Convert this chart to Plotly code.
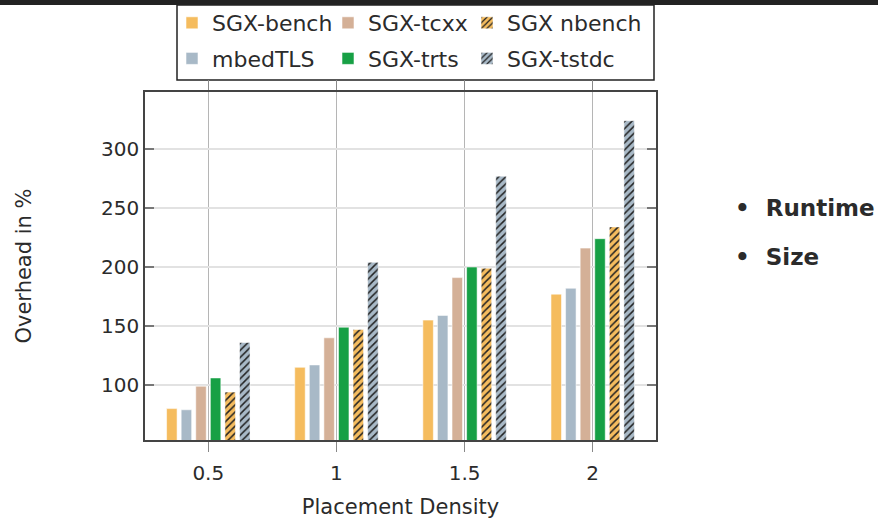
import plotly.graph_objects as go

# ---- data ----
densities = [0.5, 1, 1.5, 2]
x_tick_labels = ["0.5", "1", "1.5", "2"]
y_tick_vals = [100, 150, 200, 250, 300]

sgx_bench = [80, 115, 155, 177]
mbedtls = [79, 117, 159, 182]
sgx_tcxx = [99, 140, 191, 216]
sgx_trts = [106, 149, 200, 224]
sgx_nbench = [94, 147, 199, 234]
sgx_tstdc = [136, 204, 277, 324]

series_names = ["SGX-bench", "mbedTLS", "SGX-tcxx", "SGX-trts", "SGX nbench", "SGX-tstdc"]
series_values = [sgx_bench, mbedtls, sgx_tcxx, sgx_trts, sgx_nbench, sgx_tstdc]
series_colors = ["#F5BC5E", "#A8B9C7", "#D4B097", "#17A045", "#F5BC5E", "#A8B9C7"]
series_hatched = [False, False, False, False, True, True]
series_legend = ["legend", "legend", "legend2", "legend2", "legend3", "legend3"]

FONT = "DejaVu Sans"
TXT = "#2b2b2b"

fig = go.Figure()
for name, vals, col, hatch, lg in zip(series_names, series_values, series_colors,
                                      series_hatched, series_legend):
    marker = dict(color=col, line=dict(color="rgba(255,255,255,0.55)", width=1))
    if hatch:
        marker["pattern"] = dict(shape="/", fgcolor="#222222", bgcolor=col,
                                 size=5, solidity=0.3, fillmode="replace")
    fig.add_trace(go.Bar(x=densities, y=vals, name=name, marker=marker,
                         legend=lg, legendgroup=name))

W, H = 878, 519
ml, mr, mt, mb = 145, 222, 92, 79
pw = W - ml - mr
ph = H - mt - mb


def px_x(x):
    return (x - ml) / pw


def px_y(y):
    return (H - mb - y) / ph


def legend_at(xpix):
    return dict(
        orientation="v", x=px_x(xpix), xanchor="left",
        y=px_y(2), yanchor="top",
        bgcolor="rgba(0,0,0,0)", borderwidth=0,
        font=dict(family=FONT, size=22, color=TXT),
        itemwidth=30, traceorder="grouped", tracegroupgap=4,
    )


fig.update_layout(
    width=W, height=H,
    margin=dict(l=ml, r=mr, t=mt, b=mb, pad=0, autoexpand=False),
    paper_bgcolor="white", plot_bgcolor="white",
    barmode="group", bargap=0.317, bargroupgap=0.28,
    font=dict(family=FONT, color=TXT, size=20),
    legend=legend_at(172),
    legend2=legend_at(328),
    legend3=legend_at(467),
    xaxis=dict(
        range=[0.253, 2.247], tickmode="array", tickvals=densities,
        ticktext=x_tick_labels, ticks="outside", ticklen=10, tickcolor="#888888",
        showgrid=True, gridcolor="#b5b5b5", gridwidth=1,
        showline=True, linecolor="#444444", linewidth=1.5, mirror="ticks",
        zeroline=False, ticklabelstandoff=4,
        tickfont=dict(family=FONT, size=20, color=TXT),
        title=dict(text="Placement Density", font=dict(family=FONT, size=21, color=TXT),
                   standoff=18),
    ),
    yaxis=dict(
        range=[53.4, 348.3], tickmode="array", tickvals=y_tick_vals,
        ticks="inside", ticklen=9, tickcolor="#777777", tickwidth=1.5,
        showgrid=True, gridcolor="#e2e2e2", gridwidth=2,
        showline=True, linecolor="#444444", linewidth=1.5, mirror="ticks",
        zeroline=False,
        tickfont=dict(family=FONT, size=20, color=TXT),
        title=dict(text="Overhead in %", font=dict(family=FONT, size=21, color=TXT),
                   standoff=64),
    ),
    shapes=[
        dict(type="rect", xref="paper", yref="paper",
             x0=px_x(0), x1=px_x(W), y0=px_y(5), y1=px_y(-2),
             fillcolor="#222222", line=dict(width=0), layer="above"),
        dict(type="rect", xref="paper", yref="paper",
             x0=px_x(177), x1=px_x(654), y0=px_y(80), y1=px_y(5),
             fillcolor="white", line=dict(color="#222222", width=1.5), layer="below"),
    ],
    annotations=[
        dict(text="<b>•\u00a0\u00a0Runtime</b>", xref="paper", yref="paper",
             x=px_x(733), y=px_y(208), xanchor="left", yanchor="middle",
             showarrow=False, font=dict(family=FONT, size=23, color=TXT)),
        dict(text="<b>•\u00a0\u00a0Size</b>", xref="paper", yref="paper",
             x=px_x(733), y=px_y(257), xanchor="left", yanchor="middle",
             showarrow=False, font=dict(family=FONT, size=23, color=TXT)),
    ],
)

fig.write_html("out.html")
